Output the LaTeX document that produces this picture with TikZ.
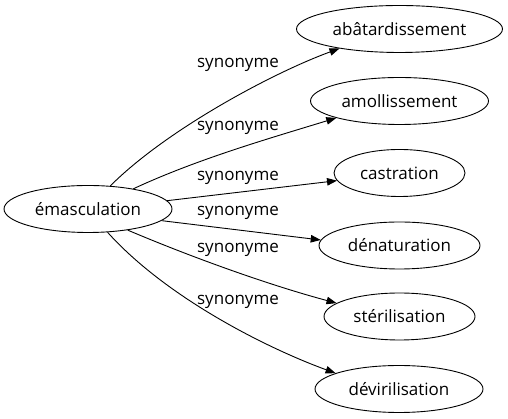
\documentclass[tikz,border=0pt]{standalone}
\usepackage{fontspec}
\setmainfont{Open Sans}
\usetikzlibrary{shapes.geometric,arrows.meta}
\begin{document}
\begin{tikzpicture}[x=1pt,y=1pt,
  word/.style={draw=black,line width=0.9pt,ellipse,inner sep=0pt,minimum height=47pt,font=\fontsize{17}{20}\selectfont},
  rel/.style={font=\fontsize{17}{20}\selectfont,inner sep=0pt},
  edge/.style={draw=black,line width=0.9pt,-{Triangle[length=10pt,width=7.5pt]}}]
\useasboundingbox (0,0) rectangle (508,419);
\node[word,minimum width=168pt] (e) at (88,210) {émasculation};
\node[word,minimum width=206pt] (a) at (399.5,390) {abâtardissement};
\node[word,minimum width=178pt] (b) at (399.5,318) {amollissement};
\node[word,minimum width=131pt] (c) at (399.5,246) {castration};
\node[word,minimum width=161pt] (d) at (399.5,173.5) {dénaturation};
\node[word,minimum width=151pt] (s) at (399.5,102.5) {stérilisation};
\node[word,minimum width=168pt] (v) at (399,30) {dévirilisation};
\node[rel] (l1) at (238,354) {synonyme};
\node[rel] (l2) at (238,291) {synonyme};
\node[rel] (l3) at (238,241) {synonyme};
\node[rel] (l4) at (238,206) {synonyme};
\node[rel] (l5) at (238,169) {synonyme};
\node[rel] (l6) at (238,117) {synonyme};
\draw[edge] (e.46) .. controls +(45:80) and +(200:70) .. (a.198);
\draw[edge] (e.24) .. controls +(25:70) and +(197:70) .. (b.195);
\draw[edge] (e.6) -- (c.187);
\draw[edge] (e.-9) -- (d.176);
\draw[edge] (e.-28) .. controls +(-23:70) and +(165:70) .. (s.168);
\draw[edge] (e.-50) .. controls +(-48:90) and +(160:70) .. (v.166);
\end{tikzpicture}
\end{document}
